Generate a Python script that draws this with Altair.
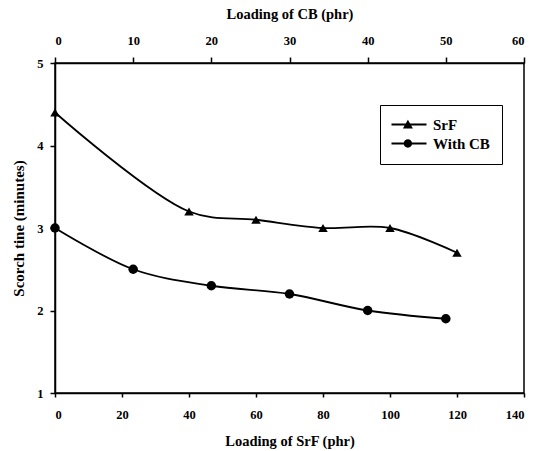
import altair as alt
import pandas as pd

# ---- data ----
srf_load = [0, 40, 60, 80, 100, 120]
srf_scorch = [4.4, 3.2, 3.1, 3.0, 3.0, 2.7]
cb_load = [0, 10, 20, 30, 40, 50]
cb_scorch = [3.0, 2.5, 2.3, 2.2, 2.0, 1.9]
series_names = ["SrF", "With CB"]
srf_ticks = [0, 20, 40, 60, 80, 100, 120, 140]
cb_ticks = [0, 10, 20, 30, 40, 50, 60]
y_ticks = [1, 2, 3, 4, 5]

srf_df = pd.DataFrame({"load": srf_load, "scorch": srf_scorch, "series": series_names[0]})
cb_df = pd.DataFrame({"load": cb_load, "scorch": cb_scorch, "series": series_names[1]})
legend_df = pd.concat([srf_df, cb_df], ignore_index=True)

FONT = "Liberation Serif"

# legend symbols: a thin bar (the line) with a marker on it
bar = "M-2,-0.25H6.75V0.25H-2Z"
tri_path = bar + "M2.1,-1.2L3.35,1L0.85,1Z"
circ_path = bar + "M3.15,0A1.05,1.05,0,1,1,1.05,0A1.05,1.05,0,1,1,3.15,0Z"

y_enc = alt.Y(
    "scorch:Q",
    scale=alt.Scale(domain=[1, 5], nice=False, zero=False),
    axis=alt.Axis(values=y_ticks, format="d", title="Scorch tine (minutes)",
                  tickSize=5, labelPadding=7, titlePadding=10, titleFontSize=15),
)

srf_x = alt.X(
    "load:Q",
    scale=alt.Scale(domain=[0, 140], nice=False),
    axis=alt.Axis(orient="bottom", values=srf_ticks, format="d", title="Loading of SrF (phr)",
                  tickSize=4, labelPadding=11, titlePadding=14),
)
cb_x = alt.X(
    "load:Q",
    scale=alt.Scale(domain=[0, 60], nice=False),
    axis=alt.Axis(orient="top", values=cb_ticks, format="d", title="Loading of CB (phr)",
                  tickSize=6, labelPadding=10, titlePadding=13),
)

srf_line = alt.Chart(srf_df).mark_line(
    interpolate="catmull-rom", color="black", strokeWidth=1.8
).encode(x=srf_x, y=y_enc)
srf_pts = alt.Chart(srf_df).mark_point(
    shape="triangle-up", filled=True, color="black", size=90, opacity=1
).encode(x=srf_x, y=y_enc)

legend_layer = alt.Chart(legend_df).mark_point(
    filled=True, color="black", opacity=0
).encode(
    x=srf_x,
    y=y_enc,
    shape=alt.Shape(
        "series:N",
        scale=alt.Scale(domain=series_names, range=[tri_path, circ_path]),
        legend=alt.Legend(
            title=None, orient="none", legendX=325, legendY=42,
            strokeColor="black", fillColor="white", padding=12,
            symbolSize=64, symbolFillColor="black", symbolOpacity=1,
            symbolStrokeWidth=0,
            labelFont=FONT, labelFontSize=15, labelFontWeight="bold",
            labelColor="black", labelOffset=26, rowPadding=3,
        ),
    ),
)

cb_line = alt.Chart(cb_df).mark_line(
    interpolate="catmull-rom", color="black", strokeWidth=1.8
).encode(x=cb_x, y=y_enc)
cb_pts = alt.Chart(cb_df).mark_point(
    shape="circle", filled=True, color="black", size=90, opacity=1
).encode(x=cb_x, y=y_enc)

srf_group = alt.layer(srf_line, srf_pts, legend_layer)
cb_group = alt.layer(cb_line, cb_pts)

chart = (
    alt.layer(srf_group, cb_group)
    .resolve_scale(x="independent", shape="independent")
    .properties(
        width=469, height=330,
        padding={"left": 55, "top": 63, "right": 12, "bottom": 58},
        autosize=alt.AutoSizeParams(type="none"),
        background="white",
    )
    .configure_view(stroke="black", strokeWidth=1.5)
    .configure_axis(
        grid=False, domainColor="black", domainWidth=1.5, tickColor="black", tickWidth=1.5,
        labelFont=FONT, labelFontSize=12.5, labelFontWeight="bold", labelColor="black",
        titleFont=FONT, titleFontSize=14.5, titleFontWeight="bold", titleColor="black",
    )
)

chart.save("out.html", embed_options={"renderer": "svg", "actions": False})
